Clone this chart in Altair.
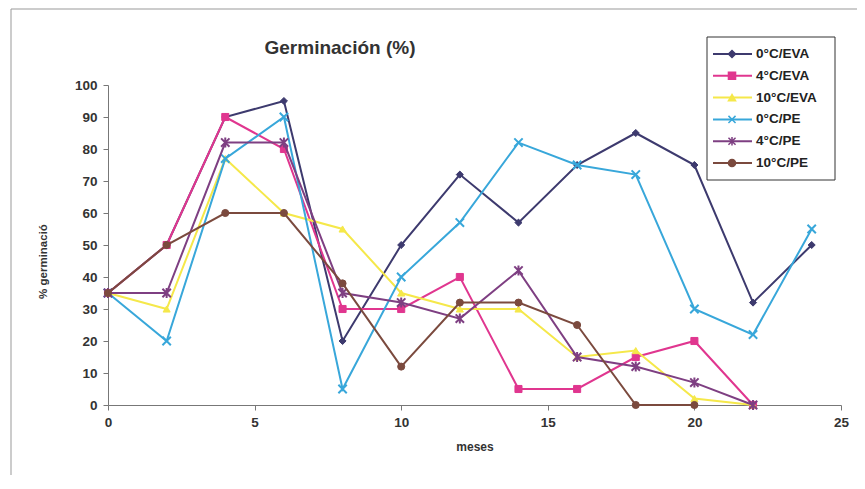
import altair as alt
import pandas as pd

chart_title = "Germinación (%)"
series_names = ["0°C/EVA", "4°C/EVA", "10°C/EVA", "0°C/PE", "4°C/PE", "10°C/PE"]
series_colors = ["#3d3a6e", "#e0368f", "#f5e84a", "#38a7da", "#7e3f82", "#7b4a3e"]
series_shapes = [
    "diamond",
    "square",
    "triangle-up",
    "M-1,-1L1,1M-1,1L1,-1",
    "M-1,-1L1,1M-1,1L1,-1M0,-1.2L0,1.2",
    "circle",
]

months_0C_EVA = [0, 2, 4, 6, 8, 10, 12, 14, 16, 18, 20, 22, 24]
vals_0C_EVA = [35, 50, 90, 95, 20, 50, 72, 57, 75, 85, 75, 32, 50]

months_4C_EVA = [0, 2, 4, 6, 8, 10, 12, 14, 16, 18, 20, 22]
vals_4C_EVA = [35, 50, 90, 80, 30, 30, 40, 5, 5, 15, 20, 0]

months_10C_EVA = [0, 2, 4, 6, 8, 10, 12, 14, 16, 18, 20, 22]
vals_10C_EVA = [35, 30, 77, 60, 55, 35, 30, 30, 15, 17, 2, 0]

months_0C_PE = [0, 2, 4, 6, 8, 10, 12, 14, 16, 18, 20, 22, 24]
vals_0C_PE = [35, 20, 77, 90, 5, 40, 57, 82, 75, 72, 30, 22, 55]

months_4C_PE = [0, 2, 4, 6, 8, 10, 12, 14, 16, 18, 20, 22]
vals_4C_PE = [35, 35, 82, 82, 35, 32, 27, 42, 15, 12, 7, 0]

months_10C_PE = [0, 2, 4, 6, 8, 10, 12, 14, 16, 18, 20]
vals_10C_PE = [35, 50, 60, 60, 38, 12, 32, 32, 25, 0, 0]

x_ticks = [0, 5, 10, 15, 20, 25]
y_ticks = [0, 10, 20, 30, 40, 50, 60, 70, 80, 90, 100]

all_months = [months_0C_EVA, months_4C_EVA, months_10C_EVA, months_0C_PE, months_4C_PE, months_10C_PE]
all_vals = [vals_0C_EVA, vals_4C_EVA, vals_10C_EVA, vals_0C_PE, vals_4C_PE, vals_10C_PE]

FONT = "Liberation Sans"

color_scale = alt.Scale(domain=series_names, range=series_colors)
shape_scale = alt.Scale(domain=series_names, range=series_shapes)

x_enc = alt.X(
    "mes:Q",
    scale=alt.Scale(domain=[0, 25], nice=False),
    axis=alt.Axis(
        values=x_ticks, title="meses", grid=False, domainColor="#777", tickColor="#777",
        tickSize=5, labelPadding=5, titlePadding=13, labelFontSize=13.5, labelFontWeight="bold",
        labelColor="#333", titleFontSize=12, titleFontWeight="bold", titleColor="#333",
        labelFont=FONT, titleFont=FONT, labelFlush=False,
    ),
)
y_enc = alt.Y(
    "valor:Q",
    scale=alt.Scale(domain=[0, 100], nice=False),
    axis=alt.Axis(
        values=y_ticks, title="% germinació", grid=False, domainColor="#777", tickColor="#777",
        tickSize=5, labelPadding=6, labelFontSize=13.5, labelFontWeight="bold", labelColor="#333",
        titleFontSize=11.5, titleFontWeight="bold", titleColor="#333", labelFont=FONT,
        titleFont=FONT, titleX=-60, titleY=176,
    ),
)

layers = []
for name, ms, vs in zip(series_names, all_months, all_vals):
    df = pd.DataFrame({"mes": ms, "valor": vs, "serie": name})
    base = alt.Chart(df)
    line = base.mark_line(strokeWidth=2).encode(
        x=x_enc, y=y_enc,
        color=alt.Color("serie:N", scale=color_scale, legend=None),
    )
    is_cross = name in ("0°C/PE", "4°C/PE")
    pts = base.mark_point(
        filled=True, size=70 if is_cross else 50, strokeWidth=2 if is_cross else 1, opacity=1
    ).encode(
        x=x_enc, y=y_enc,
        fill=alt.Fill("serie:N", scale=color_scale, legend=None),
        stroke=alt.Stroke("serie:N", scale=color_scale, legend=None),
        shape=alt.Shape("serie:N", scale=shape_scale, legend=None),
    )
    layers += [line, pts]

main = alt.layer(*layers)

# legend drawn as its own small layer
leg_df = pd.DataFrame({"serie": series_names})
leg_y = alt.Y("serie:N", sort=series_names,
              scale=alt.Scale(type="point", range=[-31, 78], padding=0), axis=None)
frame = alt.Chart(pd.DataFrame({"a": [0]})).mark_rect(
    fill="white", stroke="#333", strokeWidth=1
).encode(x=alt.value(599), x2=alt.value(727), y=alt.value(-48), y2=alt.value(95))
leg_base = alt.Chart(leg_df)
leg_rule = leg_base.mark_rule(strokeWidth=2).encode(
    x=alt.value(605), x2=alt.value(644), y=leg_y,
    color=alt.Color("serie:N", scale=color_scale, legend=None),
)
leg_pts = leg_base.mark_point(filled=True, size=50, strokeWidth=1.5, opacity=1).encode(
    x=alt.value(624), y=leg_y,
    fill=alt.Fill("serie:N", scale=color_scale, legend=None),
    stroke=alt.Stroke("serie:N", scale=color_scale, legend=None),
    shape=alt.Shape("serie:N", scale=shape_scale, legend=None),
)
leg_text = leg_base.mark_text(
    align="left", baseline="middle", fontSize=13.5, fontWeight="bold", font=FONT, color="#222"
).encode(x=alt.value(648), y=leg_y, text="serie:N")
legend = alt.layer(frame, leg_rule, leg_pts, leg_text)

border = alt.Chart(pd.DataFrame({"a": [0]})).mark_rect(
    fill=None, stroke="#999", strokeWidth=1
).encode(x=alt.value(-97), x2=alt.value(800), y=alt.value(-76), y2=alt.value(460))

title_mark = alt.Chart(pd.DataFrame({"t": [chart_title]})).mark_text(
    font=FONT, fontSize=19, fontWeight="bold", color="#333", align="center", baseline="middle"
).encode(x=alt.value(232), y=alt.value(-37), text="t:N")

chart = alt.layer(border, title_mark, main, legend).resolve_scale(y="independent").properties(
    width=733,
    height=320,
    autosize=alt.AutoSizeParams(type="none"),
    padding={"left": 100, "top": 77, "right": 16, "bottom": 70},
    background="white",
).configure_view(stroke=None)

chart.save("out.html", embed_options={"renderer": "svg", "actions": False})
